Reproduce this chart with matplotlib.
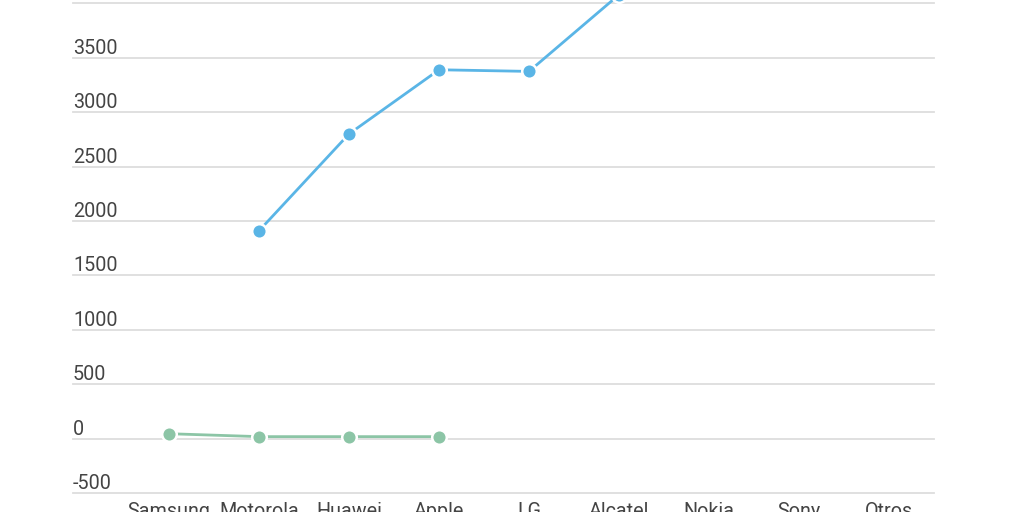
import numpy as np
import matplotlib
matplotlib.use("Agg")
import matplotlib.pyplot as plt
import matplotlib.transforms as mtransforms

plt.rcParams["font.family"] = ["Roboto", "DejaVu Sans"]

brands = ["Samsung", "Motorola", "Huawei", "Apple", "LG", "Alcatel", "Nokia", "Sony", "Otros"]
blue_values = [np.nan, 1910, 2800, 3390, 3375, 4080, np.nan, np.nan, np.nan]
green_values = [45, 18, 18, 18, np.nan, np.nan, np.nan, np.nan, np.nan]
y_ticks = [-500, 0, 500, 1000, 1500, 2000, 2500, 3000, 3500, 4000]

fig = plt.figure(figsize=(10.24, 5.12), dpi=100)
ax = fig.add_axes([73 / 1024, 19 / 512, (934 - 73) / 1024, 493 / 512])

x = np.arange(len(brands))
x_left = -0.5 - (124 - 73) / 90
ax.set_xlim(x_left, len(brands) - 0.5)
ax.set_ylim(-500, -500 + 493 / 54.4 * 500)

# grid lines with their labels sitting just above them
label_tf = mtransforms.blended_transform_factory(ax.transAxes, ax.transData)
for v in y_ticks:
    ax.axhline(v, color="#dddddd", lw=1.3, zorder=1, clip_on=False)
    ax.text(0, v, str(v), transform=label_tf, ha="left", va="bottom",
            fontsize=14.2, color="#444444")

for vals, col in [(blue_values, "#5ab5e6"), (green_values, "#8cc5a6")]:
    ax.plot(x, vals, color=col, lw=2, zorder=2)
    ax.plot(x, vals, "o", color=col, ms=10.5, mec="white", mew=1.8, zorder=3)

ax.set_xticks(x)
ax.set_xticklabels(brands, fontsize=14.2, color="#444444")
ax.set_yticks([])
ax.tick_params(axis="x", length=0, pad=6.5)
for s in ax.spines.values():
    s.set_visible(False)

fig.savefig("out.png", dpi=100)
